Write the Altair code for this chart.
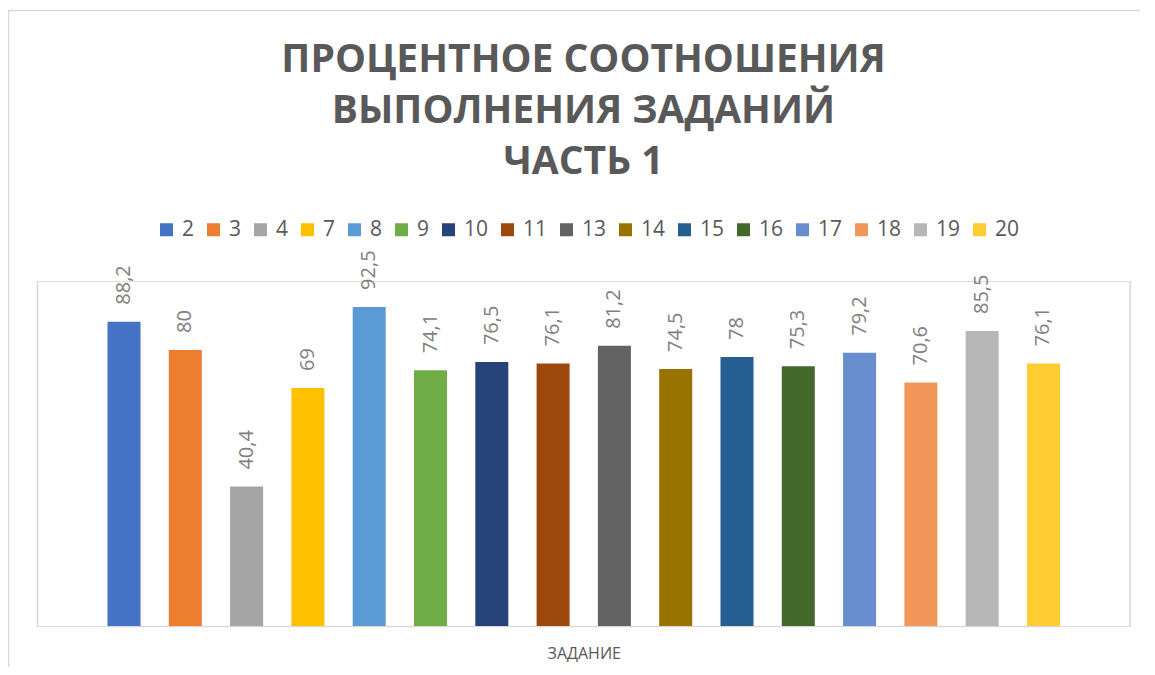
import altair as alt
import pandas as pd

tasks = ["2", "3", "4", "7", "8", "9", "10", "11", "13", "14", "15", "16", "17", "18", "19", "20"]
values = [88.2, 80, 40.4, 69, 92.5, 74.1, 76.5, 76.1, 81.2, 74.5, 78, 75.3, 79.2, 70.6, 85.5, 76.1]
colors = ["#4472C4", "#ED7D31", "#A5A5A5", "#FFC000", "#5B9BD5", "#70AD47", "#264478", "#9E480E",
          "#636363", "#997300", "#255E91", "#43682B", "#698ED0", "#F1975A", "#B7B7B7", "#FFCD33"]
title_lines = ["ПРОЦЕНТНОЕ СООТНОШЕНИЯ", "ВЫПОЛНЕНИЯ ЗАДАНИЙ", "ЧАСТЬ 1"]
axis_title = "ЗАДАНИЕ"


def fmt(v):
    return f"{v:g}".replace(".", ",")


df = pd.DataFrame({"task": tasks, "value": values, "label": [fmt(v) for v in values]})
one = pd.DataFrame({"k": [0]})

W, H = 1093, 345
GRAY = "#d9d9d9"

x = alt.X("task:N", sort=tasks,
          scale=alt.Scale(paddingInner=0.4614, paddingOuter=0, range=[70.5, 1023]),
          axis=alt.Axis(title=axis_title, labels=False, ticks=False, domain=True,
                        domainColor=GRAY, domainWidth=1.5,
                        titleFont="Open Sans", titleFontSize=16, titleFontWeight="normal",
                        titleColor="#595959", titlePadding=19))
y = alt.Y("value:Q", scale=alt.Scale(domain=[0, 100]),
          axis=alt.Axis(title=None, labels=False, ticks=False, grid=False, domain=True,
                        domainColor=GRAY, domainWidth=1.5))

bars = alt.Chart(df).mark_bar().encode(
    x=x, y=y,
    color=alt.Color("task:N", sort=tasks,
                    scale=alt.Scale(domain=tasks, range=colors),
                    legend=alt.Legend(title=None, orient="none", legendX=119, legendY=-62,
                                      direction="horizontal", columns=16,
                                      symbolType="square", symbolSize=169, symbolStrokeWidth=0,
                                      labelFont="Open Sans", labelFontSize=21,
                                      labelColor="#595959", labelOffset=5,
                                      columnPadding=8, padding=0, labelLimit=200))
)

text = alt.Chart(df).mark_text(angle=270, align="left", baseline="middle", dx=17,
                               font="Open Sans", fontSize=20, color="#808080").encode(
    x=x, y=y, text="label:N"
)

right_rule = alt.Chart(one).mark_rule(color=GRAY, strokeWidth=1.5).encode(
    x=alt.value(W), y=alt.value(0), y2=alt.value(H))
top_border = alt.Chart(one).mark_rule(color=GRAY, strokeWidth=1.5).encode(
    x=alt.value(-29), x2=alt.value(W + 20), y=alt.value(-270.5))
left_border = alt.Chart(one).mark_rule(color=GRAY, strokeWidth=1.5).encode(
    x=alt.value(-28.5), y=alt.value(-270.5), y2=alt.value(H + 60))

chart = alt.layer(bars, text, right_rule, top_border, left_border).properties(
    width=W, height=H,
    autosize=alt.AutoSizeParams(type="none"),
    padding={"left": 29, "top": 273, "right": 10, "bottom": 41},
    title=alt.TitleParams(text=title_lines, font="Open Sans", fontSize=39, fontWeight="bold",
                          color="#595959", lineHeight=51, anchor="middle", offset=-172),
).configure_view(stroke=None).configure(background="white")

chart.save("out.html", embed_options={"renderer": "svg", "actions": False})
